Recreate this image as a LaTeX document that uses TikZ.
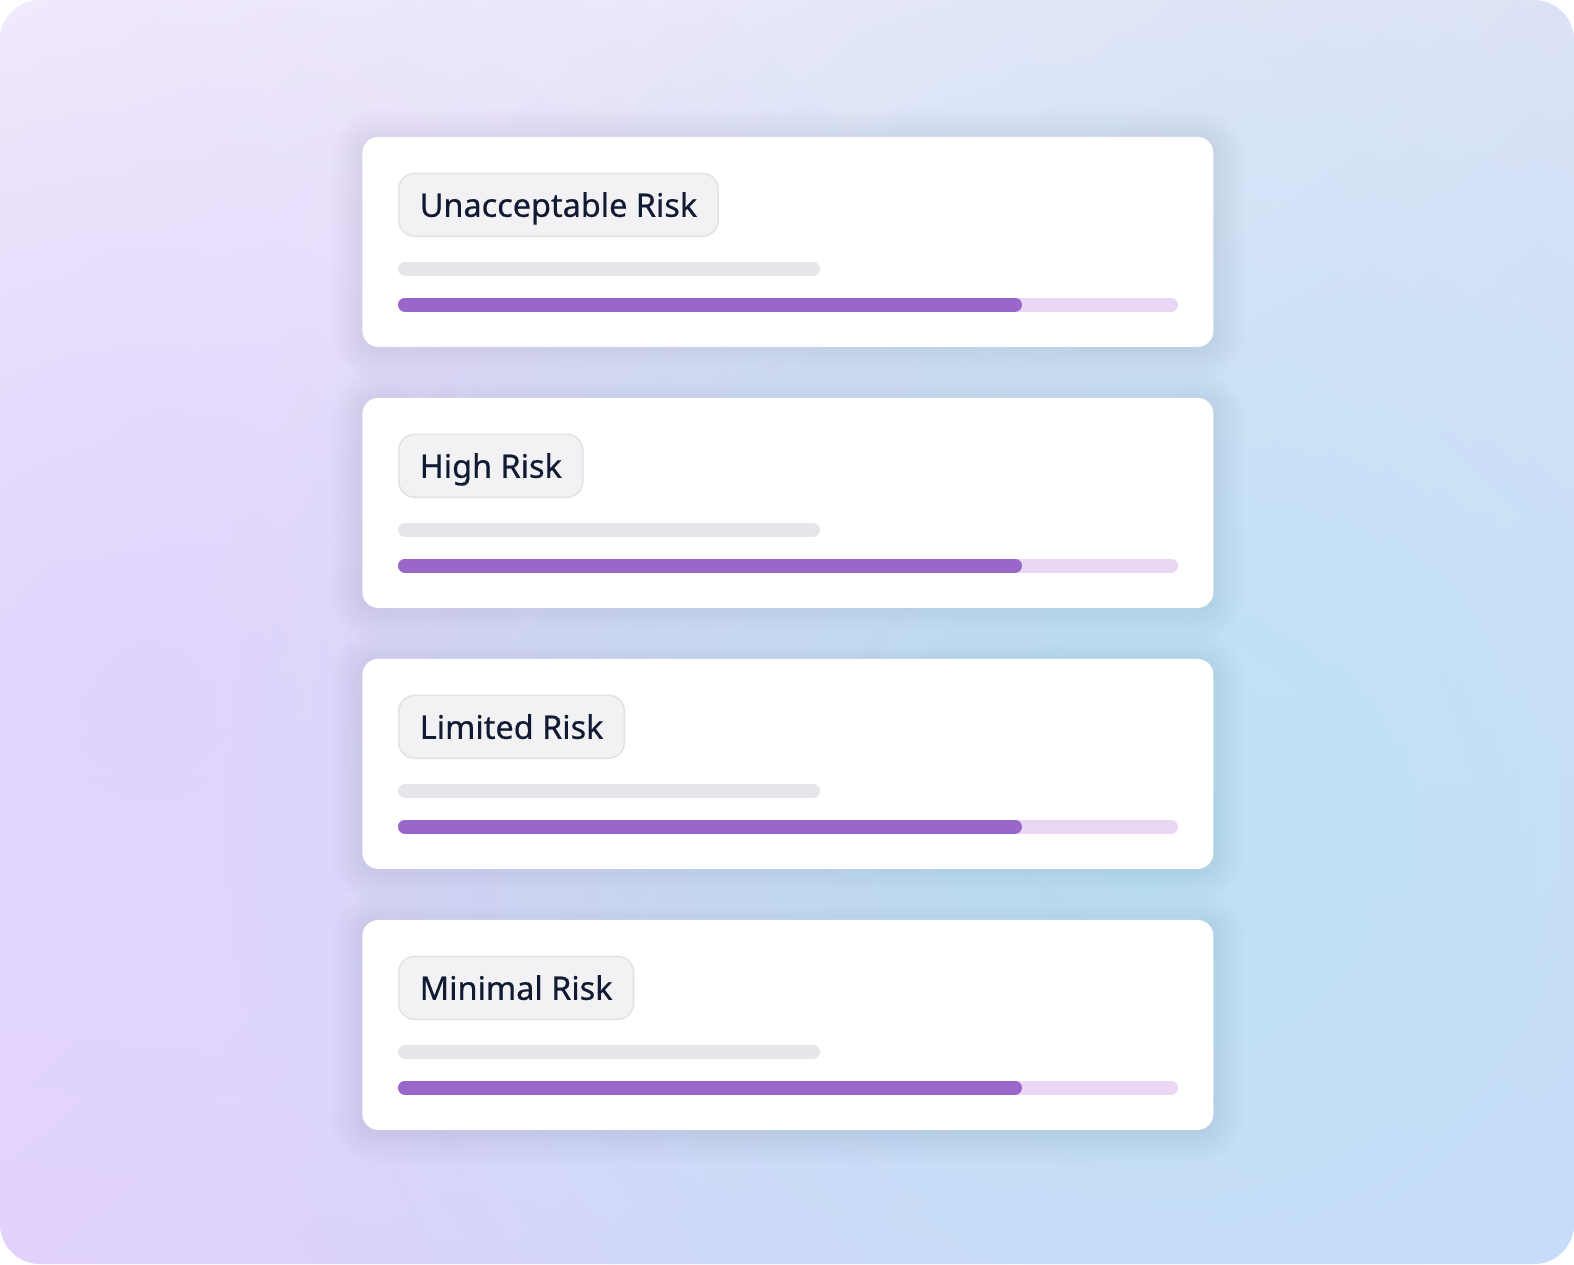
\documentclass[tikz,border=0pt]{standalone}
\usepackage{fontspec}
\setmainfont{Noto Sans}
\newfontfamily\tagfont{Noto Sans}[FakeBold=0.5]
\usetikzlibrary{positioning,calc,fadings,shadings}
\definecolor{bgtl}{HTML}{F6F0FD}
\definecolor{bgtr}{HTML}{DEE2F6}
\definecolor{bgbl}{HTML}{E2D2FB}
\definecolor{bgbr}{HTML}{CDD9FA}
\definecolor{glowblue}{HTML}{BDE3F5}
\definecolor{glowlilac}{HTML}{E0D3FC}
\definecolor{haze}{HTML}{5A56B0}
\definecolor{ink}{HTML}{111A33}
\definecolor{tagfill}{HTML}{F2F2F4}
\definecolor{tagline}{HTML}{E3E3E7}
\definecolor{barline}{HTML}{E5E6E9}
\definecolor{trackline}{HTML}{E9D7F5}
\definecolor{fillline}{HTML}{9966C9}
\tikzfading[name=glow, inner color=transparent!0, outer color=transparent!100]
\tikzset{
  card/.style={fill=white, rounded corners=8pt, minimum width=425.5pt,
    minimum height=105pt, inner sep=0pt},
  halo/.style={haze, opacity=0.005},
  tag/.style={draw=tagline, line width=0.8pt, fill=tagfill, rounded corners=8pt,
    inner xsep=10.5pt, inner ysep=9.75pt, text height=12pt, text depth=0pt,
    text=ink, font=\tagfont\fontsize{16.2pt}{19pt}\selectfont},
  bar/.style={line width=7pt, line cap=round}
}
\begin{document}
\begin{tikzpicture}[x=0.5pt,y=-0.5pt]
	\useasboundingbox (0,0) rectangle (1574,1264);
	\begin{scope}
		\clip[rounded corners=20pt] (0,0) rectangle (1574,1264);
		\shade[upper left=bgtl, upper right=bgtr, lower left=bgbl, lower right=bgbr]
			(0,0) rectangle (1574,1264);
		\fill[glowlilac, path fading=glow, opacity=0.9] (150,700) ellipse (900 and 900);
		\fill[glowblue, path fading=glow] (1150,820) ellipse (950 and 950);
	\end{scope}
	\foreach \top/\name/\lbl in {136.5/C1/Unacceptable Risk, 397.5/C2/High Risk,
			658.5/C3/Limited Risk, 919.5/C4/Minimal Risk}{
		\foreach \k in {1,...,16}
			\fill[halo, rounded corners=8pt+\k pt] (362-2*\k,\top-2*\k+3) rectangle (1213+2*\k,\top+210+2*\k+3);
		\node[card, anchor=north west] (\name) at (362,\top) {};
		\node[tag, anchor=north west] (\name tag) at ($(\name.north west)+(36,36)$) {\lbl};
		\draw[bar, barline] ($(\name.north west)+(43,132)$) -- ($(\name.north west)+(451,132)$);
		\draw[bar, trackline] ($(\name.north west)+(43,168)$) -- ($(\name.north west)+(809,168)$);
		\draw[bar, fillline] ($(\name.north west)+(43,168)$) -- ($(\name.north west)+(653,168)$);
	}
\end{tikzpicture}
\end{document}
